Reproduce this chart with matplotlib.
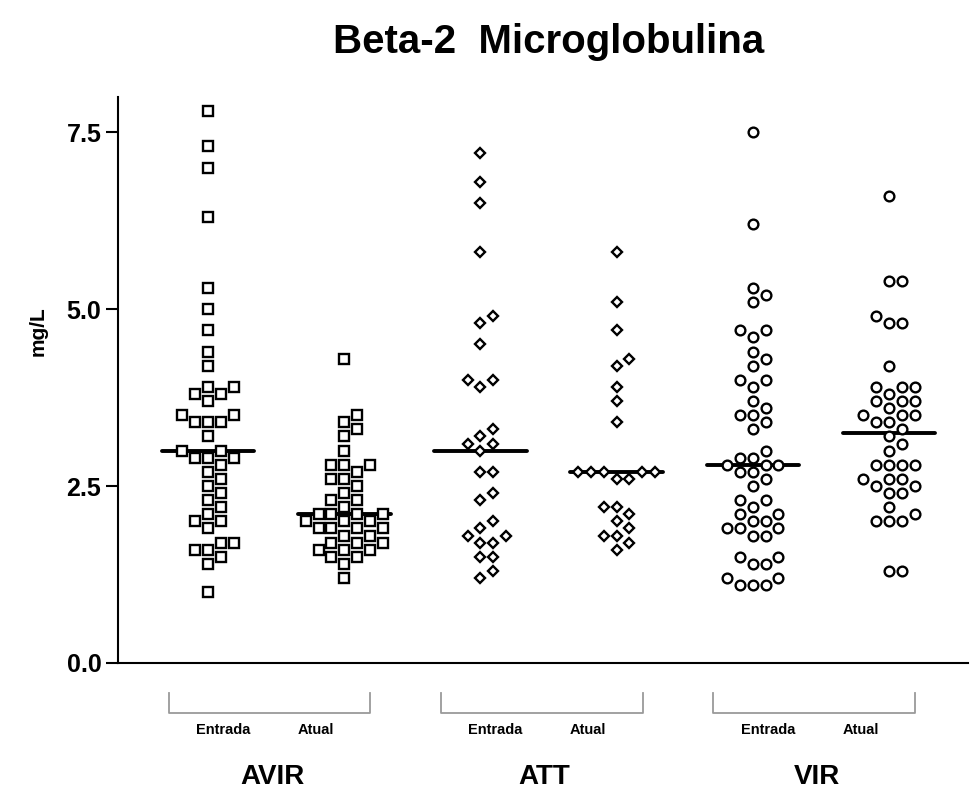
import numpy as np
import matplotlib
matplotlib.use("Agg")
import matplotlib.pyplot as plt
from matplotlib.transforms import blended_transform_factory

plt.rcParams["font.family"] = ["Liberation Sans", "DejaVu Sans"]
plt.rcParams["font.weight"] = "bold"

# values (mg/L)
groups = ["AVIR", "ATT", "VIR"]
moments = ["Entrada", "Atual"]

avir_entrada = [7.8, 7.3, 7.0, 6.3, 5.3, 5.0, 4.7, 4.4, 4.2, 3.9, 3.9, 3.8, 3.8, 3.7,
                3.5, 3.5, 3.4, 3.4, 3.4, 3.2, 3.0, 3.0, 2.9, 2.9, 2.9, 2.8, 2.7, 2.6,
                2.5, 2.4, 2.3, 2.2, 2.1, 2.0, 2.0, 1.9, 1.7, 1.7, 1.6, 1.6, 1.5, 1.4, 1.0]
avir_atual = [4.3, 3.5, 3.4, 3.3, 3.2, 3.0, 2.8, 2.8, 2.8, 2.7, 2.6, 2.6, 2.5, 2.4,
              2.3, 2.3, 2.2, 2.1, 2.1, 2.1, 2.1, 2.0, 2.0, 2.0, 1.9, 1.9, 1.9, 1.9,
              1.8, 1.8, 1.7, 1.7, 1.7, 1.6, 1.6, 1.6, 1.5, 1.5, 1.4, 1.2]
att_entrada = [7.2, 6.8, 6.5, 5.8, 4.9, 4.8, 4.5, 4.0, 4.0, 3.9, 3.3, 3.2, 3.1, 3.1,
               3.0, 2.7, 2.7, 2.4, 2.3, 2.0, 1.9, 1.8, 1.8, 1.7, 1.7, 1.5, 1.5, 1.3, 1.2]
att_atual = [5.8, 5.1, 4.7, 4.3, 4.2, 3.9, 3.7, 3.4, 2.7, 2.7, 2.7, 2.7, 2.7, 2.6,
             2.6, 2.2, 2.2, 2.1, 2.0, 1.9, 1.8, 1.8, 1.7, 1.6]
vir_entrada = [7.5, 6.2, 5.3, 5.2, 5.1, 4.7, 4.7, 4.6, 4.4, 4.3, 4.2, 4.0, 4.0, 3.9,
               3.7, 3.6, 3.5, 3.5, 3.4, 3.3, 3.0, 2.9, 2.9, 2.8, 2.8, 2.8, 2.7, 2.7,
               2.6, 2.5, 2.3, 2.3, 2.2, 2.1, 2.1, 2.0, 2.0, 1.9, 1.9, 1.9, 1.8, 1.8,
               1.5, 1.5, 1.4, 1.4, 1.2, 1.2, 1.1, 1.1, 1.1]
vir_atual = [6.6, 5.4, 5.4, 4.9, 4.8, 4.8, 4.2, 3.9, 3.9, 3.9, 3.8, 3.7, 3.7, 3.7,
             3.6, 3.5, 3.5, 3.5, 3.4, 3.4, 3.3, 3.2, 3.1, 3.0, 2.8, 2.8, 2.8, 2.8,
             2.6, 2.6, 2.6, 2.5, 2.5, 2.4, 2.4, 2.2, 2.1, 2.0, 2.0, 2.0, 1.3, 1.3]

series = [avir_entrada, avir_atual, att_entrada, att_atual, vir_entrada, vir_atual]
markers = ["s", "s", "D", "D", "o", "o"]
marker_sizes = [6.5, 6.5, 4.7, 4.7, 7.0, 7.0]


def swarm_slots(values, gap=0.15):
    """Column-scatter slots: 0, +1, -1, +2, ... avoiding close neighbours."""
    values = np.asarray(values, dtype=float)
    slots = np.zeros(len(values))
    placed = []
    for i in np.argsort(values, kind="stable"):
        k = 0
        while True:
            s = ((k + 1) // 2) * (1 if k % 2 else -1)
            if not any(ps == s and abs(pv - values[i]) < gap for pv, ps in placed):
                break
            k += 1
        slots[i] = s
        placed.append((values[i], s))
    return slots


fig = plt.figure(figsize=(9.71, 7.93), dpi=100)
ax = fig.add_axes([0.1215, 0.164, 0.8755, 0.714])

step = 0.094
for pos, vals, mk, ms in zip(range(1, 7), series, markers, marker_sizes):
    vals = np.asarray(vals, dtype=float)
    x = pos + swarm_slots(vals) * step
    ax.plot(x, vals, linestyle="none", marker=mk, markersize=ms,
            markerfacecolor="white", markeredgecolor="black",
            markeredgewidth=1.7, zorder=3)
    med = np.median(vals)
    ax.plot([pos - 0.34, pos + 0.34], [med, med], color="black", lw=2.8,
            solid_capstyle="round", zorder=2)

ax.set_xlim(0.339, 6.58)
ax.set_ylim(0, 8.0)
ax.set_yticks([0, 2.5, 5.0, 7.5])
ax.set_yticklabels(["0.0", "2.5", "5.0", "7.5"], fontsize=18, fontweight="bold")
ax.set_xticks([])
ax.tick_params(axis="y", direction="out", length=9, width=1.5, pad=3)
for side in ["top", "right"]:
    ax.spines[side].set_visible(False)
for side in ["left", "bottom"]:
    ax.spines[side].set_linewidth(1.5)

fig.text(0.039, 1 - 331 / 793, "mg/L", rotation=90, ha="center", va="center",
         fontsize=15, fontweight="bold")
fig.text(0.565, 1 - 42 / 793, "Beta-2  Microglobulina", ha="center", va="center",
         fontsize=29, fontweight="bold")

# group brackets and labels below the axis
trans = blended_transform_factory(ax.transData, fig.transFigure)
for g, name in enumerate(groups):
    center = 1.5 + 2 * g
    left, right = center - 0.79, center + 0.69
    ax.plot([left, left, right, right], [0.1261, 0.1009, 0.1009, 0.1261],
            transform=trans, color="#9a9a9a", lw=1.3, clip_on=False)
    ax.text(center - 0.39, 0.0795, moments[0], transform=trans, ha="center",
            va="center", fontsize=10.5, fontweight="bold")
    ax.text(center + 0.29, 0.0795, moments[1], transform=trans, ha="center",
            va="center", fontsize=10.5, fontweight="bold")
    ax.text(center - 0.03, 0.0205, name, transform=trans, ha="center",
            va="center", fontsize=20, fontweight="bold")

fig.savefig("out.png", dpi=100)
